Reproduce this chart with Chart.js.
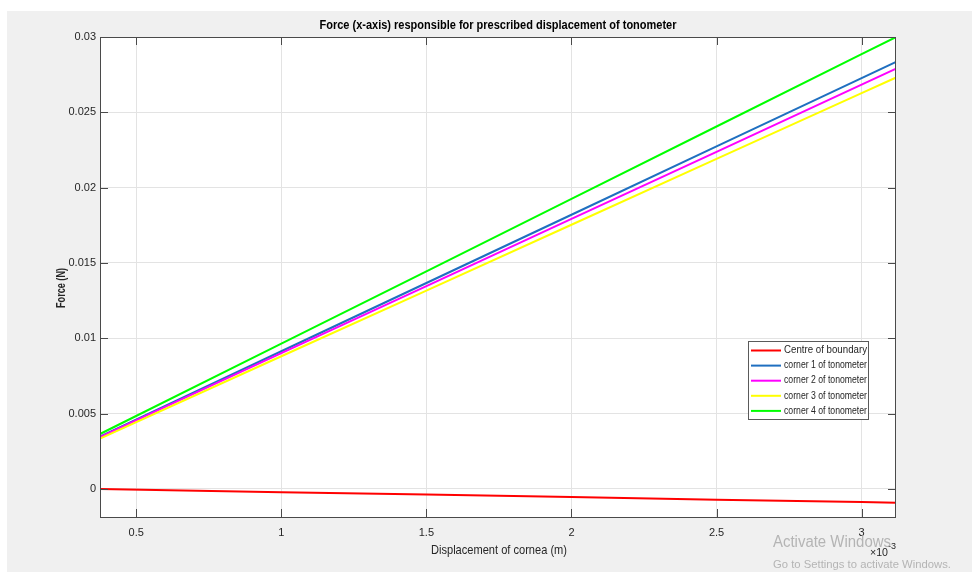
<!DOCTYPE html>
<html>
<head>
<meta charset="utf-8">
<script src="https://cdn.jsdelivr.net/npm/chart.js@4.4.1/dist/chart.umd.min.js"></script>
<style>
  body { margin: 0; background: #ffffff; }
  #wrap { position: absolute; left: 7px; top: 11px; width: 965px; height: 561px; background: #f0f0f0; }
</style>
</head>
<body>
<div id="wrap"><canvas id="chart" width="965" height="561"></canvas></div>
<script>
// displacement of cornea (m)
var displacement = [0.000375, 0.001, 0.0015, 0.002, 0.0025, 0.003, 0.003119];
// force (N) for each point
var centreBoundary = [0.0, -0.00021, -0.00037, -0.00054, -0.00071, -0.00087, -0.00091];
var corner1 = [0.00347, 0.00914, 0.01367, 0.0182, 0.02274, 0.02727, 0.02835];
var corner2 = [0.00345, 0.00902, 0.01347, 0.01793, 0.02238, 0.02684, 0.0279];
var corner3 = [0.00335, 0.00881, 0.01317, 0.01754, 0.02191, 0.02627, 0.02731];
var corner4 = [0.00365, 0.00965, 0.01445, 0.01926, 0.02406, 0.02886, 0.03];

var seriesNames = ['Centre of boundary', 'corner 1 of tonometer', 'corner 2 of tonometer', 'corner 3 of tonometer', 'corner 4 of tonometer'];
var seriesColors = ['#ff0000', '#1f6fc0', '#ff00ff', '#ffff00', '#00ff00'];
var xTicks = [0.0005, 0.001, 0.0015, 0.002, 0.0025, 0.003];
var yTicks = [0, 0.005, 0.01, 0.015, 0.02, 0.025, 0.03];

var FONT = "'Liberation Sans', Arial, sans-serif";

function pts(ys) {
  return displacement.map(function(x, i) { return { x: x, y: ys[i] }; });
}

var allSeries = [centreBoundary, corner1, corner2, corner3, corner4];
var datasets = allSeries.map(function(ys, i) {
  return {
    label: seriesNames[i],
    data: pts(ys),
    borderColor: seriesColors[i],
    backgroundColor: seriesColors[i],
    borderWidth: 2,
    pointRadius: 0,
    tension: 0,
    order: 5 - i
  };
});

// MATLAB-like frame, inward ticks, title, labels and legend
var matlabLook = {
  id: 'matlabLook',
  beforeDraw: function(chart) {
    var a = chart.chartArea, ctx = chart.ctx;
    ctx.save();
    ctx.fillStyle = '#ffffff';
    ctx.fillRect(a.left, a.top, a.right - a.left, a.bottom - a.top);
    ctx.restore();
  },
  afterDraw: function(chart) {
    var a = chart.chartArea, ctx = chart.ctx;
    var xs = chart.scales.x, ys = chart.scales.y;
    ctx.save();
    // box
    ctx.strokeStyle = '#4a4a4a';
    ctx.lineWidth = 1;
    ctx.strokeRect(a.left + 0.5, a.top + 0.5, a.right - a.left - 1, a.bottom - a.top);
    // ticks
    ctx.beginPath();
    xTicks.forEach(function(v) {
      var px = Math.round(xs.getPixelForValue(v)) + 0.5;
      ctx.moveTo(px, a.bottom); ctx.lineTo(px, a.bottom - 8);
      ctx.moveTo(px, a.top); ctx.lineTo(px, a.top + 8);
    });
    yTicks.forEach(function(v) {
      var py = Math.round(ys.getPixelForValue(v)) + 0.5;
      ctx.moveTo(a.left, py); ctx.lineTo(a.left + 8, py);
      ctx.moveTo(a.right, py); ctx.lineTo(a.right - 8, py);
    });
    ctx.stroke();

    // title
    ctx.fillStyle = '#000000';
    ctx.textAlign = 'center';
    ctx.textBaseline = 'middle';
    ctx.font = 'bold 12px ' + FONT;
    ctx.fillText('Force (x-axis) responsible for prescribed displacement of tonometer', (a.left + a.right) / 2, 15, 357);

    // axis labels
    ctx.fillStyle = '#262626';
    ctx.font = '13px ' + FONT;
    ctx.fillText('Displacement of cornea (m)', (a.left + a.right) / 2 + 1, 539, 136);
    ctx.save();
    ctx.translate(54, 277);
    ctx.rotate(-Math.PI / 2);
    ctx.font = 'bold 13px ' + FONT;
    ctx.fillText('Force (N)', 0, 0, 40);
    ctx.restore();

    // exponent
    ctx.textAlign = 'left';
    ctx.font = '11px ' + FONT;
    ctx.fillText('\u00d710', 863, 542, 18);
    ctx.font = '9px ' + FONT;
    ctx.fillText('-3', 881, 536);

    // legend
    var lx = 741, ly = 330, lw = 120, lh = 78;
    ctx.fillStyle = '#ffffff';
    ctx.fillRect(lx, ly, lw, lh);
    ctx.strokeStyle = '#5a5a5a';
    ctx.strokeRect(lx + 0.5, ly + 0.5, lw, lh);
    ctx.font = '10px ' + FONT;
    ctx.textBaseline = 'middle';
    seriesNames.forEach(function(name, i) {
      var yy = ly + 9.5 + i * 15.1;
      ctx.strokeStyle = seriesColors[i];
      ctx.lineWidth = 2;
      ctx.beginPath();
      ctx.moveTo(lx + 3, yy); ctx.lineTo(lx + 33, yy);
      ctx.stroke();
      ctx.fillStyle = '#262626';
      ctx.fillText(name, lx + 36, yy, 83);
    });

    // watermark
    ctx.fillStyle = 'rgba(160,160,160,0.75)';
    ctx.font = '16px ' + FONT;
    ctx.fillText('Activate Windows', 766, 532, 118);
    ctx.font = '11.5px ' + FONT;
    ctx.fillText('Go to Settings to activate Windows.', 766, 554, 178);
    ctx.restore();
  }
};

var ctx = document.getElementById('chart').getContext('2d');
new Chart(ctx, {
  type: 'line',
  data: { datasets: datasets },
  plugins: [matlabLook],
  options: {
    responsive: false,
    animation: false,
    layout: { padding: { top: 26, right: 76, bottom: 0, left: 0 } },
    plugins: { legend: { display: false }, tooltip: { enabled: false }, title: { display: false } },
    scales: {
      x: {
        type: 'linear',
        min: 0.000375,
        max: 0.0031186,
        afterBuildTicks: function(scale) { scale.ticks = xTicks.map(function(v) { return { value: v }; }); },
        afterFit: function(scale) { scale.height = 55; },
        grid: { color: '#e3e3e3', drawTicks: false },
        border: { display: false },
        ticks: {
          padding: 9,
          color: '#262626',
          font: { family: FONT, size: 11 },
          maxRotation: 0,
          callback: function(v) { return String(parseFloat((v * 1000).toFixed(4))); }
        }
      },
      y: {
        min: -0.00186,
        max: 0.03,
        afterBuildTicks: function(scale) { scale.ticks = yTicks.map(function(v) { return { value: v }; }); },
        afterFit: function(scale) { scale.width = 93; },
        grid: { color: '#e3e3e3', drawTicks: false },
        border: { display: false },
        ticks: {
          padding: 4,
          color: '#262626',
          font: { family: FONT, size: 11 },
          callback: function(v) { return String(parseFloat(v.toFixed(4))); }
        }
      }
    }
  }
});
</script>
</body>
</html>
